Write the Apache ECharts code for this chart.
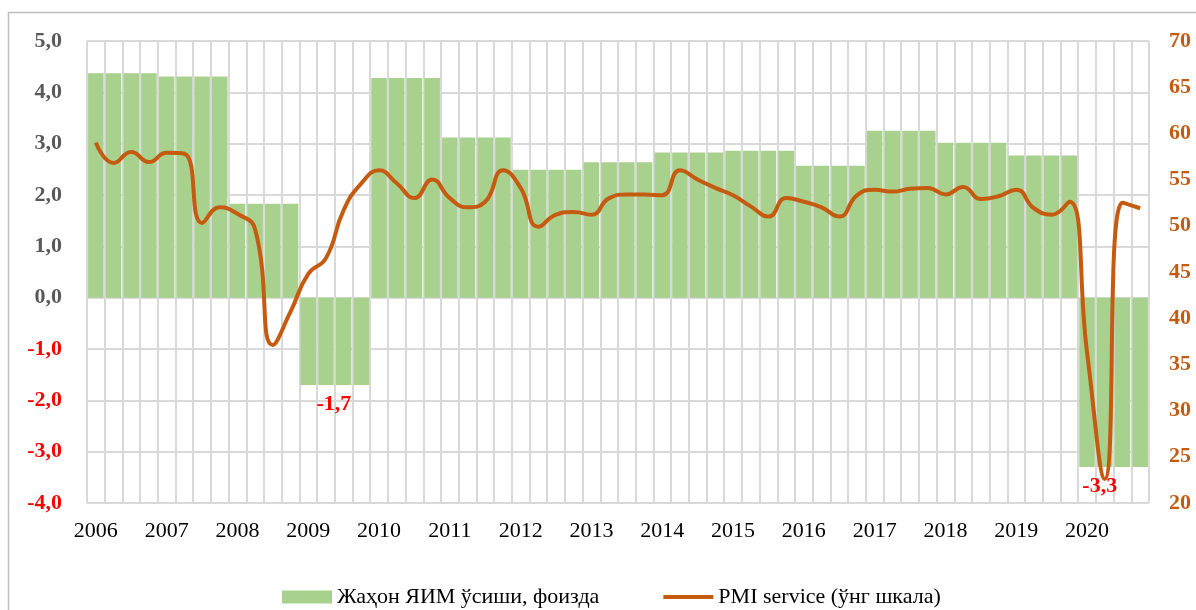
<!DOCTYPE html>
<html>
<head>
<meta charset="utf-8">
<script src="https://cdn.jsdelivr.net/npm/echarts@6/dist/echarts.min.js"></script>
<style>
  html, body { margin: 0; padding: 0; background: #fff; }
  #chart { width: 1196px; height: 610px; }
</style>
</head>
<body>
<div id="chart"></div>
<script>
// years shown on the axis, each year has 4 quarters
const years = ['2006', '2007', '2008', '2009', '2010', '2011', '2012', '2013',
  '2014', '2015', '2016', '2017', '2018', '2019', '2020']
// world GDP growth, % (one value per year)
const gdpGrowth = [4.37, 4.31, 1.83, -1.7, 4.28, 3.12, 2.49, 2.64,
  2.83, 2.86, 2.57, 3.25, 3.02, 2.77, -3.3]
// PMI service, quarterly (right axis)
const pmiService = [
  59.0, 56.8, 58.0, 56.9,
  57.9, 57.8, 50.3, 52.0,
  51.3, 49.6, 37.1, 40.7,
  44.8, 46.5, 51.7, 54.6,
  56.0, 54.6, 53.0, 55.0,
  53.0, 52.0, 52.6, 56.0,
  54.1, 49.9, 51.2, 51.5,
  51.2, 53.0, 53.4, 53.4,
  53.3, 56.0, 55.0, 54.1,
  53.3, 52.1, 51.0, 53.0,
  52.6, 52.0, 51.0, 53.3,
  53.9, 53.7, 54.0, 54.1,
  53.4, 54.2, 52.9, 53.2,
  53.9, 51.9, 51.2, 52.6,
  36.3, 22.6, 52.5, 51.9
]
const gdpName = 'Жаҳон ЯИМ ўсиши, фоизда'
const pmiName = 'PMI service (ўнг шкала)'

const quarters = years.flatMap((y) => [1, 2, 3, 4].map((q) => `${y}-Q${q}`))

// value labels only under the negative years
const labelOn = { '2009-Q2': [8, 0], '2020-Q2': [-5, 0] }
const fmt = (v) => v.toFixed(1).replace('.', ',')

const barData = quarters.map((q, i) => {
  const v = gdpGrowth[Math.floor(i / 4)]
  if (!labelOn[q]) return v
  return {
    value: v,
    label: {
      show: true,
      position: 'bottom',
      distance: 8,
      offset: labelOn[q],
      formatter: (p) => fmt(p.value),
      color: '#FF0000',
      fontWeight: 'bold',
      fontSize: 22,
      fontFamily: 'Liberation Serif'
    }
  }
})

const myChart = echarts.init(document.getElementById('chart'))

const option = {
  animation: false,
  backgroundColor: '#fff',
  textStyle: { fontFamily: 'Liberation Serif' },
  // outer frame of the chart area
  graphic: [{
    type: 'rect',
    shape: { x: 8.5, y: 12.5, width: 1300, height: 700 },
    style: { fill: 'none', stroke: '#BFBFBF', lineWidth: 1.5 },
    silent: true
  }],
  legend: {
    left: 277,
    top: 581,
    itemWidth: 50,
    itemHeight: 13,
    itemGap: 62,
    data: [
      { name: gdpName, icon: 'rect' },
      { name: pmiName, itemStyle: { opacity: 0 }, lineStyle: { width: 4 } }
    ],
    textStyle: { fontSize: 22, color: '#000', fontFamily: 'Liberation Serif' }
  },
  grid: {
    left: 87,
    right: 47,
    top: 41,
    bottom: 107
  },
  xAxis: {
    type: 'category',
    data: quarters,
    boundaryGap: true,
    axisLine: { show: false },
    axisTick: { show: false },
    axisLabel: {
      interval: 3,
      margin: 17,
      formatter: (v) => v.slice(0, 4),
      fontSize: 22,
      color: '#000',
      fontFamily: 'Liberation Serif'
    },
    splitLine: {
      show: true,
      interval: 0,
      lineStyle: { color: '#D9D9D9', width: 2 }
    }
  },
  yAxis: [
    {
      type: 'value',
      min: -4,
      max: 5,
      interval: 1,
      axisLine: { show: false },
      axisTick: { show: false },
      axisLabel: {
        margin: 25,
        formatter: (v) => fmt(v),
        color: (v) => (v < 0 ? '#FF0000' : '#595959'),
        fontWeight: 'bold',
        fontSize: 22,
        fontFamily: 'Liberation Serif'
      },
      splitLine: { lineStyle: { color: '#D9D9D9', width: 2 } }
    },
    {
      type: 'value',
      min: 20,
      max: 70,
      interval: 5,
      position: 'right',
      axisLine: { show: false },
      axisTick: { show: false },
      axisLabel: {
        margin: 20,
        color: '#C55A11',
        fontWeight: 'bold',
        fontSize: 22,
        fontFamily: 'Liberation Serif'
      },
      splitLine: { show: false }
    }
  ],
  series: [
    {
      name: gdpName,
      type: 'bar',
      data: barData,
      barCategoryGap: '12%',
      itemStyle: { color: '#A9D18E' }
    },
    {
      name: pmiName,
      type: 'line',
      yAxisIndex: 1,
      data: pmiService,
      smooth: 0.5,
      symbol: 'none',
      lineStyle: { color: '#C55A11', width: 4 },
      itemStyle: { color: '#C55A11' },
      z: 5
    }
  ]
}
myChart.setOption(option)
</script>
</body>
</html>
